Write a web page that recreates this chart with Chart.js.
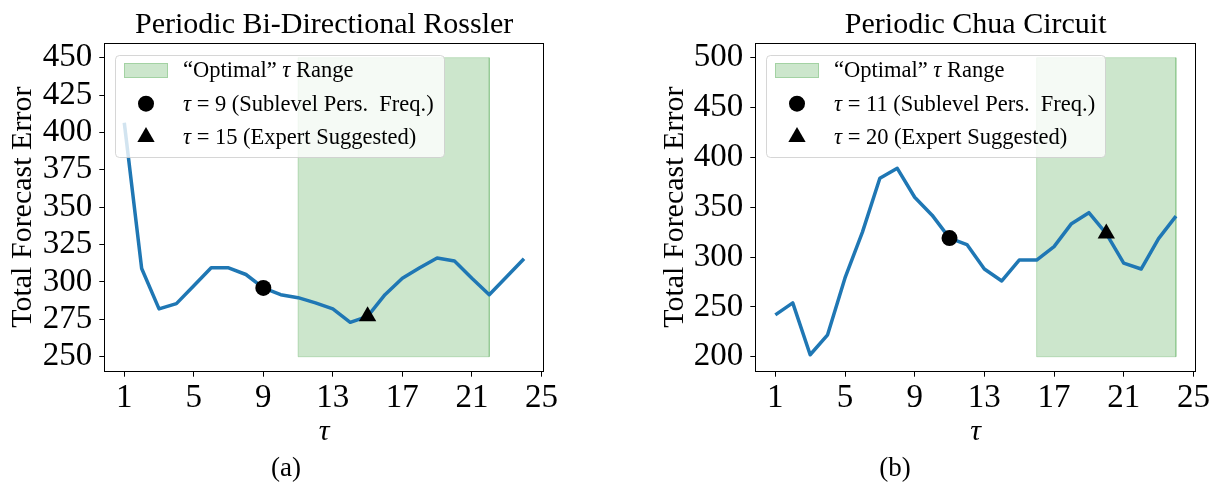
<!DOCTYPE html>
<html>
<head>
<meta charset="utf-8">
<script src="https://cdn.jsdelivr.net/npm/chart.js@4.4.1/dist/chart.umd.min.js"></script>
<style>
  html, body { margin: 0; padding: 0; background: #fff; }
  body { position: relative; width: 1213px; height: 484px; overflow: hidden; font-family: "Liberation Serif", serif; }
  .panel { position: absolute; top: 0; height: 484px; }
  #panelA { left: 0; width: 600px; }
  #panelB { left: 652px; width: 561px; }
  .caption { position: absolute; top: 451px; width: 100px; line-height: 32px; text-align: center; font-size: 27px; color: #000; }
</style>
</head>
<body>
<div class="panel" id="panelA"><canvas id="chartA" width="600" height="484"></canvas></div>
<div class="panel" id="panelB"><canvas id="chartB" width="561" height="484"></canvas></div>
<div class="caption" style="left:236px">(a)</div>
<div class="caption" style="left:845px">(b)</div>
<script>
// Embedding delay τ tested for each system
const tauValues = [1, 2, 3, 4, 5, 6, 7, 8, 9, 10, 11, 12, 13, 14, 15, 16, 17, 18, 19, 20, 21, 22, 23, 24];

// Total forecast error per τ
const rosslerError = [406.5, 309, 282, 285.5, 297.5, 309.5, 309.5, 305, 296, 291.5, 289.5, 286,
                      282, 273, 277, 291.5, 302.5, 309.5, 316, 314, 302.5, 291.5, 303.5, 315.5];
const chuaError = [242, 254, 202, 222, 279, 325, 379, 389, 360, 342, 319, 312.5,
                   288, 276, 297, 297, 310.5, 333.5, 344.5, 323.5, 294, 288, 318.5, 341];

// Tick labels
const tauTicks = [1, 5, 9, 13, 17, 21, 25];
const rosslerTicks = [250, 275, 300, 325, 350, 375, 400, 425, 450];
const chuaTicks = [200, 250, 300, 350, 400, 450, 500];

// "Optimal" τ range and the error band it is shaded over
const rosslerOptimalTau = [11, 22];
const rosslerBand = [250, 450];
const chuaOptimalTau = [16, 24];
const chuaBand = [200, 500];

// Highlighted τ choices
const rosslerSublevelTau = 9;
const rosslerExpertTau = 15;
const chuaSublevelTau = 11;
const chuaExpertTau = 20;

const SERIF = '"Liberation Serif", "Times New Roman", serif';

// Box around the plotting area
const framePlugin = {
  id: 'frame',
  afterDatasetsDraw(chart) {
    const { ctx, chartArea: a } = chart;
    ctx.save();
    ctx.strokeStyle = '#000';
    ctx.lineWidth = 1;
    const l = Math.round(a.left) + 0.5, t = Math.round(a.top) + 0.5;
    const r = Math.round(a.right) - 0.5, b = Math.round(a.bottom) - 0.5;
    ctx.strokeRect(l, t, r - l, b - t);
    ctx.restore();
  }
};

// Writes a label, setting every τ in italics
function richParts(text) {
  const parts = [];
  text.split('τ').forEach((seg, i) => {
    if (i > 0) parts.push({ s: 'τ', it: true });
    if (seg) parts.push({ s: seg, it: false });
  });
  return parts;
}
function richWidth(ctx, text, roman, italic) {
  let w = 0;
  richParts(text).forEach(p => { ctx.font = p.it ? italic : roman; w += ctx.measureText(p.s).width; });
  return w;
}
function drawRich(ctx, text, x, y, roman, italic) {
  richParts(text).forEach(p => {
    ctx.font = p.it ? italic : roman;
    ctx.fillText(p.s, x, y);
    x += ctx.measureText(p.s).width;
  });
}

// Semi-transparent legend inside the upper left of the plot
const insideLegendPlugin = {
  id: 'insideLegend',
  afterDraw(chart) {
    const { ctx, chartArea } = chart;
    const items = chart.data.datasets.filter(d => d.legendKind);
    const fs = 22.5;
    const roman = fs + 'px ' + SERIF;
    const italic = 'italic ' + fs + 'px ' + SERIF;
    ctx.save();
    const maxW = Math.max(...items.map(d => richWidth(ctx, d.label, roman, italic)));
    const x0 = Math.round(chartArea.left + 11), y0 = Math.round(chartArea.top + 12);
    const w = Math.round(68 + maxW + 10), h = 102;
    ctx.beginPath();
    ctx.roundRect(x0 + 0.5, y0 + 0.5, w, h, 4);
    ctx.fillStyle = 'rgba(255,255,255,0.8)';
    ctx.fill();
    ctx.strokeStyle = 'rgba(204,204,204,0.8)';
    ctx.lineWidth = 1;
    ctx.stroke();
    items.forEach((d, i) => {
      const cy = y0 + 15.5 + i * 33.2;
      if (d.legendKind === 'patch') {
        ctx.fillStyle = d.backgroundColor;
        ctx.fillRect(x0 + 9, cy - 7.5, 44, 15);
        ctx.strokeStyle = d.borderColor;
        ctx.strokeRect(x0 + 9.5, cy - 7, 43, 14);
      } else {
        const mx = x0 + 31, r = d.pointRadius;
        ctx.fillStyle = d.pointBackgroundColor;
        ctx.beginPath();
        if (d.pointStyle === 'triangle') {
          ctx.moveTo(mx, cy - r);
          ctx.lineTo(mx + r * Math.sin(2 * Math.PI / 3), cy - r * Math.cos(2 * Math.PI / 3));
          ctx.lineTo(mx + r * Math.sin(4 * Math.PI / 3), cy - r * Math.cos(4 * Math.PI / 3));
          ctx.closePath();
        } else {
          ctx.arc(mx, cy, r, 0, Math.PI * 2);
        }
        ctx.fill();
      }
      ctx.fillStyle = '#000';
      ctx.textBaseline = 'middle';
      ctx.textAlign = 'left';
      drawRich(ctx, d.label, x0 + 68, cy + 1, roman, italic);
    });
    ctx.restore();
  }
};

function buildChart(canvas, p) {
  const xFirst = tauValues[0], xLast = tauValues[tauValues.length - 1];
  const xPad = 0.05 * (xLast - xFirst);
  const yPad = 0.05 * (p.band[1] - p.band[0]);
  const points = tauValues.map((t, i) => ({ x: t, y: p.errors[i] }));
  const at = t => ({ x: t, y: p.errors[tauValues.indexOf(t)] });
  const [o0, o1] = p.optimal, [b0, b1] = p.band;

  return new Chart(canvas, {
    type: 'line',
    data: {
      datasets: [
        {
          label: '“Optimal” τ Range', legendKind: 'patch',
          data: [{ x: o0, y: b0 }, { x: o0, y: b1 }, { x: o1, y: b1 }, { x: o1, y: b0 }, { x: o0, y: b0 }],
          fill: 'shape', backgroundColor: 'rgba(0,128,0,0.2)', borderColor: 'rgba(0,128,0,0.2)',
          borderWidth: 1, pointRadius: 0, tension: 0, order: 3
        },
        {
          label: 'Total Forecast Error', data: points,
          borderColor: '#1f77b4', borderWidth: 3.5, pointRadius: 0, fill: false, tension: 0,
          borderJoinStyle: 'round', order: 2
        },
        {
          label: 'τ = ' + p.sublevel + ' (Sublevel Pers.  Freq.)', legendKind: 'marker',
          data: [at(p.sublevel)], showLine: false, pointStyle: 'circle', pointRadius: 8,
          pointBackgroundColor: '#000', pointBorderWidth: 0, order: 1
        },
        {
          label: 'τ = ' + p.expert + ' (Expert Suggested)', legendKind: 'marker',
          data: [at(p.expert)], showLine: false, pointStyle: 'triangle', pointRadius: 10,
          pointBackgroundColor: '#000', pointBorderWidth: 0, order: 0
        }
      ]
    },
    options: {
      responsive: false,
      animation: false,
      devicePixelRatio: 1,
      events: [],
      layout: { padding: { left: 0, right: p.padRight, top: 0, bottom: 22 } },
      plugins: {
        legend: { display: false },
        tooltip: { enabled: false },
        title: {
          display: true, text: p.title, fullSize: false, color: '#000',
          font: { family: SERIF, size: 30, weight: 'normal', lineHeight: 1.2 },
          padding: { top: 6.7, bottom: 0 }
        }
      },
      scales: {
        x: {
          type: 'linear', min: xFirst - xPad, max: xLast + xPad,
          afterBuildTicks: s => { s.ticks = tauTicks.map(v => ({ value: v })); },
          afterFit: s => { s.height = 90.3; },
          border: { display: false },
          grid: { drawOnChartArea: false, drawTicks: true, tickLength: 5, tickWidth: 1, tickColor: '#000', color: '#000' },
          ticks: { color: '#000', font: { family: SERIF, size: 33 }, padding: 2, maxRotation: 0, autoSkip: false },
          title: {
            display: true, text: 'τ', color: '#000',
            font: { family: SERIF, size: 30, style: 'italic', lineHeight: 1.2 },
            padding: { top: 0, bottom: 12 }
          }
        },
        y: {
          type: 'linear', min: b0 - yPad, max: b1 + yPad,
          afterBuildTicks: s => { s.ticks = p.yTicks.map(v => ({ value: v })); },
          afterFit: s => { s.width = p.yWidth; },
          border: { display: false },
          grid: { drawOnChartArea: false, drawTicks: true, tickLength: 5, tickWidth: 1, tickColor: '#000', color: '#000' },
          ticks: { color: '#000', font: { family: SERIF, size: 33 }, padding: 7, autoSkip: false },
          title: {
            display: true, text: 'Total Forecast Error', color: '#000',
            font: { family: SERIF, size: 30, lineHeight: 1.2 },
            padding: { top: 5, bottom: 0 }
          }
        }
      }
    },
    plugins: [framePlugin, insideLegendPlugin]
  });
}

buildChart(document.getElementById('chartA'), {
  title: 'Periodic Bi-Directional Rossler',
  errors: rosslerError, yTicks: rosslerTicks,
  optimal: rosslerOptimalTau, band: rosslerBand,
  sublevel: rosslerSublevelTau, expert: rosslerExpertTau,
  yWidth: 104.3, padRight: 56
});

buildChart(document.getElementById('chartB'), {
  title: 'Periodic Chua Circuit',
  errors: chuaError, yTicks: chuaTicks,
  optimal: chuaOptimalTau, band: chuaBand,
  sublevel: chuaSublevelTau, expert: chuaExpertTau,
  yWidth: 103.3, padRight: 17
});
</script>
</body>
</html>
